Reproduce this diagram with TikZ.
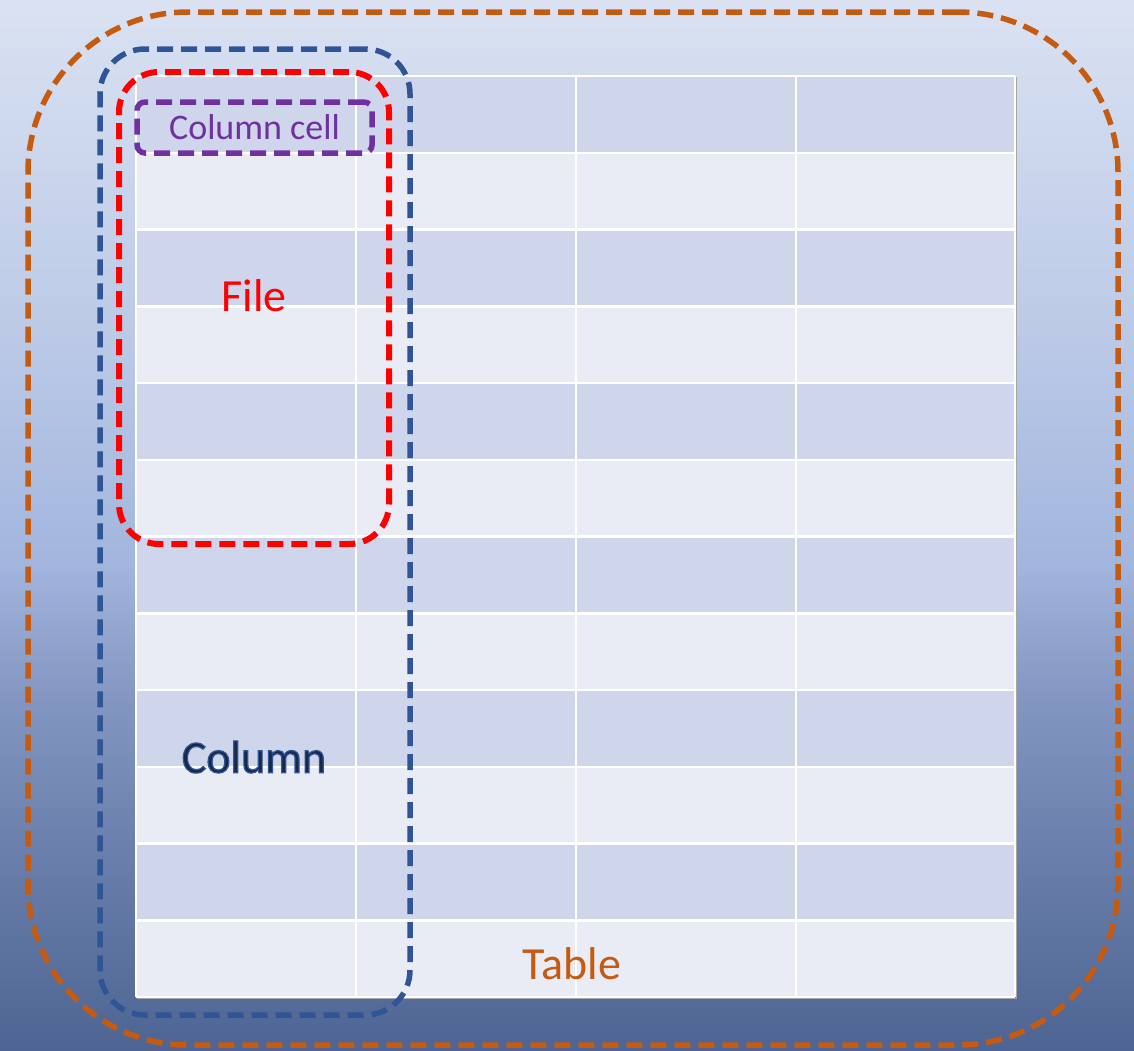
\documentclass[tikz,border=0pt]{standalone}
\usepackage{fontspec}
\setmainfont{Carlito}
\definecolor{bgtop}{HTML}{DAE2F2}
\definecolor{bgupper}{HTML}{BCCAE7}
\definecolor{bgmid}{HTML}{A2B6DE}
\definecolor{bglower}{HTML}{8296C1}
\definecolor{bgdeep}{HTML}{6A7FAB}
\definecolor{bgbot}{HTML}{4E6492}
\definecolor{rowdark}{HTML}{CFD5EA}
\definecolor{rowlight}{HTML}{E9EBF5}
\definecolor{tableorange}{HTML}{C55A11}
\definecolor{colblue}{HTML}{2F5597}
\definecolor{cellpurple}{HTML}{7030A0}
\definecolor{colnavy}{HTML}{172848}
% backdrop gradient, light at the top and deep blue at the bottom
\pgfdeclareverticalshading{backdrop}{100bp}{%
  color(0bp)=(bgbot); color(25bp)=(bgbot); color(34.5bp)=(bgdeep);
  color(41.7bp)=(bglower); color(48.3bp)=(bgmid); color(59.3bp)=(bgupper);
  color(75bp)=(bgtop); color(100bp)=(bgtop)}
% outlined text: fill in the current colour, stroke in blue
\newcommand{\outlinedtext}[1]{%
  \special{pdf:literal direct 0.184 0.333 0.592 RG 1.2 w 2 Tr}#1\special{pdf:literal direct 0 Tr}}
\tikzset{
  region/.style={draw, line width=5.5pt, dash pattern=on 16pt off 8pt, fill=none, inner sep=0pt, rectangle},
  lbl/.style={inner sep=0pt, font=\fontsize{46}{50}\selectfont},
}
\begin{document}
\begin{tikzpicture}[x=1pt, y=-1pt]
  \useasboundingbox (0,0) rectangle (1134,1050);
  % background
  \shade[shading=backdrop] (0,0) rectangle (1134,1050);

  % table: 12 alternating rows, 4 columns
  \foreach \r in {0,...,11} {
    \pgfmathsetmacro{\ya}{76+\r*76.75}
    \pgfmathsetmacro{\yb}{76+(\r+1)*76.75}
    \pgfmathtruncatemacro{\odd}{mod(\r,2)}
    \ifnum\odd=0
      \fill[rowdark] (136,\ya) rectangle (1015,\yb);
    \else
      \fill[rowlight] (136,\ya) rectangle (1015,\yb);
    \fi
  }
  \draw[gray!70, line width=1.5pt] (137,998.5) -- (1016.5,998.5) -- (1016.5,77);
  \foreach \r in {0,...,12} {
    \draw[white, line width=2.5pt] (136,76+\r*76.75) -- (1015,76+\r*76.75);
  }
  \foreach \x in {136,356,576,796,1015} {
    \draw[white, line width=2.5pt] (\x,76) -- (\x,997);
  }

  % grouping outlines
  \node[region, tableorange, rounded corners=160pt, minimum width=1090pt, minimum height=1033pt] (table) at (573,528.5) {};
  \node[region, colblue, rounded corners=45pt, minimum width=310pt, minimum height=966pt] (column) at (255,532) {};
  \node[region, red, line width=6pt, rounded corners=40pt, minimum width=270pt, minimum height=472pt] (file) at (254,308) {};
  \node[region, cellpurple, rounded corners=8pt, minimum width=235pt, minimum height=51pt] (cell) at (254.5,127.5) {};

  % labels
  \node[inner sep=0pt, text=cellpurple, font=\fontsize{36}{40}\selectfont] (celllbl) at (cell.center) {Column cell};
  \node[lbl, text=red] (filelbl) at (254,296) {File};
  \node[lbl, text=colnavy] (collbl) at (254,757) {\outlinedtext{Column}};
  \node[lbl, text=tableorange] (tablelbl) at (572,964) {Table};
\end{tikzpicture}
\end{document}
